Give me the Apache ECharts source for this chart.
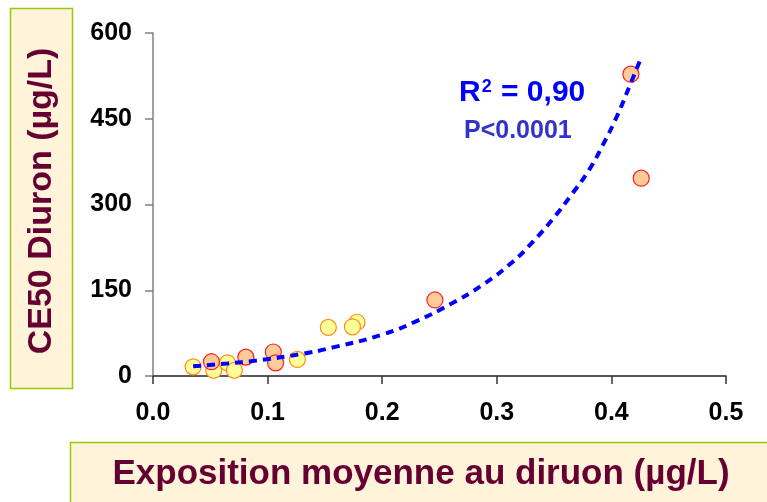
<!DOCTYPE html>
<html>
<head>
<meta charset="utf-8">
<title>CE50 Diuron</title>
<script src="https://cdn.jsdelivr.net/npm/echarts@6/dist/echarts.min.js"></script>
<style>
  html, body { margin: 0; padding: 0; background: #ffffff; }
  #chart { width: 767px; height: 502px; }
</style>
</head>
<body>
<div id="chart"></div>
<script>
// Mean diuron exposure (µg/L) vs. CE50 (µg/L), two groups of sites
const groupYellowX = [0.035, 0.053, 0.065, 0.071, 0.126, 0.153, 0.178, 0.174];
const groupYellowY = [16, 10, 23, 10, 29, 85, 94, 86];
const groupRedX = [0.051, 0.081, 0.105, 0.107, 0.246, 0.426, 0.417];
const groupRedY = [25, 33, 42, 23, 133, 346, 528];

// Exponential trend curve, sampled along its path
const trendX = [0.035, 0.065, 0.090, 0.128, 0.157, 0.201, 0.230, 0.259, 0.288, 0.314, 0.332, 0.349, 0.364, 0.381, 0.392, 0.405, 0.416, 0.425];
const trendY = [17, 22, 27, 38, 50, 73, 96, 125, 160, 200, 236, 275, 314, 362, 402, 455, 508, 552];

const xTicks = [0, 0.1, 0.2, 0.3, 0.4, 0.5];
const yTicks = [0, 150, 300, 450, 600];

const rSquaredText = '0,90';
const pValueText = 'P<0.0001';
const yTitle = 'CE50 Diuron (µg/L)';
const xTitle = 'Exposition moyenne au diruon (µg/L)';

const zip = (xs, ys) => xs.map((x, i) => [x, ys[i]]);

const FONT = 'Liberation Sans, Arial, sans-serif';
const MAROON = '#660033';

const chart = echarts.init(document.getElementById('chart'), null, { renderer: 'canvas' });

chart.setOption({
  backgroundColor: '#ffffff',
  animation: false,
  grid: { left: 153, right: 41, top: 33, bottom: 126, containLabel: false },
  xAxis: {
    type: 'value',
    min: xTicks[0],
    max: xTicks[xTicks.length - 1],
    interval: xTicks[1] - xTicks[0],
    axisLine: { lineStyle: { color: '#222222', width: 1.5 } },
    axisTick: { show: true, length: 8, lineStyle: { color: '#333333', width: 1.5 } },
    splitLine: { show: false },
    axisLabel: {
      margin: 25,
      color: '#000000',
      fontFamily: FONT,
      fontWeight: 'bold',
      fontSize: 25,
      formatter: v => v.toFixed(1)
    }
  },
  yAxis: {
    type: 'value',
    min: yTicks[0],
    max: yTicks[yTicks.length - 1],
    interval: yTicks[1] - yTicks[0],
    axisLine: { show: true, lineStyle: { color: '#808080', width: 1.5 } },
    axisTick: { show: true, length: 8, lineStyle: { color: '#808080', width: 1.5 } },
    splitLine: { show: false },
    axisLabel: {
      margin: 21,
      color: '#000000',
      fontFamily: FONT,
      fontWeight: 'bold',
      fontSize: 25
    }
  },
  graphic: [
    // Axis title boxes
    {
      type: 'rect', z: -10, silent: true,
      shape: { x: 10.5, y: 8.5, width: 62, height: 380 },
      style: { fill: '#FFF4DA', stroke: '#99CC00', lineWidth: 1.5 }
    },
    {
      type: 'text', z: -5, silent: true,
      x: 42, y: 201, rotation: Math.PI / 2,
      style: {
        text: yTitle, fill: MAROON, font: 'bold 34px ' + FONT,
        align: 'center', verticalAlign: 'middle'
      }
    },
    {
      type: 'rect', z: -10, silent: true,
      shape: { x: 70.5, y: 442.5, width: 710, height: 70 },
      style: { fill: '#FFF4DA', stroke: '#99CC00', lineWidth: 1.5 }
    },
    {
      type: 'text', z: -5, silent: true,
      x: 421, y: 474,
      style: {
        text: xTitle, fill: MAROON, font: 'bold 35px ' + FONT,
        align: 'center', verticalAlign: 'middle'
      }
    },
    // Regression annotations
    {
      type: 'text', silent: true,
      x: 459, y: 93,
      style: {
        text: '{b|R}{s|2}{b| = ' + rSquaredText + '}',
        verticalAlign: 'middle',
        rich: {
          b: { fill: '#0000FF', font: 'bold 30px ' + FONT, verticalAlign: 'bottom' },
          s: { fill: '#0000FF', font: 'bold 18px ' + FONT, verticalAlign: 'top', padding: [0, 1, 12, 1] }
        }
      }
    },
    {
      type: 'text', silent: true,
      x: 464, y: 131,
      style: {
        text: pValueText, fill: '#3333CC', font: 'bold 25px ' + FONT,
        verticalAlign: 'middle'
      }
    }
  ],
  series: [
    {
      name: 'Groupe jaune',
      type: 'scatter',
      data: zip(groupYellowX, groupYellowY),
      symbol: 'circle',
      symbolSize: 16,
      itemStyle: { color: '#FFFF99', borderColor: '#FF8C1A', borderWidth: 1.2, opacity: 1 },
      z: 2
    },
    {
      name: 'Groupe rouge',
      type: 'scatter',
      data: zip(groupRedX, groupRedY),
      symbol: 'circle',
      symbolSize: 16,
      itemStyle: { color: '#FFCC99', borderColor: '#FF2020', borderWidth: 1.2, opacity: 1 },
      z: 3
    },
    {
      name: 'Tendance',
      type: 'line',
      data: zip(trendX, trendY),
      smooth: true,
      symbol: 'none',
      lineStyle: { color: '#0000FF', width: 4, type: [8, 6] },
      z: 4
    }
  ]
});
</script>
</body>
</html>
